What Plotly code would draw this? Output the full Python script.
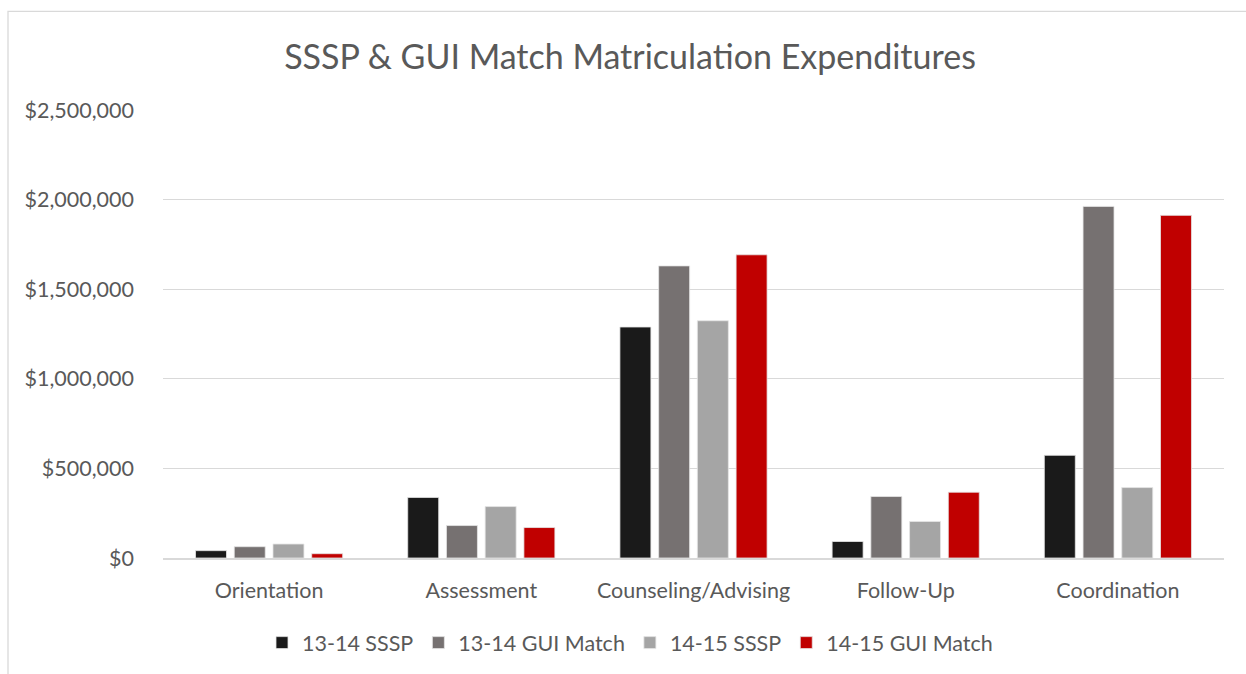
import plotly.graph_objects as go

categories = ["Orientation", "Assessment", "Counseling/Advising", "Follow-Up", "Coordination"]
series_names = ["13-14 SSSP", "13-14 GUI Match", "14-15 SSSP", "14-15 GUI Match"]
sssp_1314 = [41000, 338000, 1289000, 92000, 573000]
gui_1314 = [63000, 181000, 1630000, 343000, 1962000]
sssp_1415 = [78000, 287000, 1324000, 204000, 393000]
gui_1415 = [24000, 170000, 1692000, 367000, 1912000]
colors = ["#1a1a1a", "#767171", "#a5a5a5", "#c00000"]
tick_vals = [0, 500000, 1000000, 1500000, 2000000, 2500000]
tick_text = ["$0", "$500,000", "$1,000,000", "$1,500,000", "$2,000,000", "$2,500,000"]

FONT = "Lato"
TXT = "#595959"

fig = go.Figure()
for name, vals, col in zip(series_names, [sssp_1314, gui_1314, sssp_1415, gui_1415], colors):
    fig.add_trace(go.Bar(x=categories, y=vals, name=name,
                         marker=dict(color=col, line=dict(color="#e6e6e6", width=0.8))))

W, H = 1246, 674
L, R = 163, 1224
T, B = 110, 559.3
pw, ph = R - L, B - T

fig.update_layout(
    width=W, height=H,
    margin=dict(l=L, r=W - R, t=T, b=H - B, pad=0),
    paper_bgcolor="white", plot_bgcolor="white",
    barmode="group", bargap=0.27, bargroupgap=0.2,
    font=dict(family=FONT, color=TXT, size=21),
    title=dict(text="SSSP & GUI Match Matriculation Expenditures",
               x=(630 - L) / pw, xref="paper", xanchor="center",
               y=1 - 57 / H, yanchor="middle",
               font=dict(size=34, color=TXT, family=FONT)),
    xaxis=dict(showgrid=False, showline=True, linecolor="#d9d9d9", linewidth=2,
               ticks="", tickfont=dict(size=21.5, color=TXT), ticklabelstandoff=12),
    yaxis=dict(range=[0, 2500000], tickvals=tick_vals, ticktext=tick_text,
               showgrid=True, gridcolor="#d9d9d9", gridwidth=1.3, zeroline=False,
               showline=False, ticks="", tickfont=dict(size=21.5, color=TXT),
               ticklabelstandoff=28),
    legend=dict(orientation="h", x=(630 - L) / pw, xanchor="center",
                y=-(643 - B) / ph, yanchor="middle",
                font=dict(size=21.5, color=TXT), itemwidth=30, traceorder="normal"),
    showlegend=True,
    shapes=[dict(type="rect", xref="paper", yref="paper",
                 x0=(8 - L) / pw, x1=(1300 - L) / pw,
                 y0=-(700 - B) / ph, y1=(B - 11) / ph,
                 line=dict(color="#d9d9d9", width=1.3), fillcolor="rgba(0,0,0,0)",
                 layer="below")],
)

fig.write_html("out.html", config={"displayModeBar": False},
               post_script="document.body.style.margin='0';document.body.style.overflow='hidden';")
